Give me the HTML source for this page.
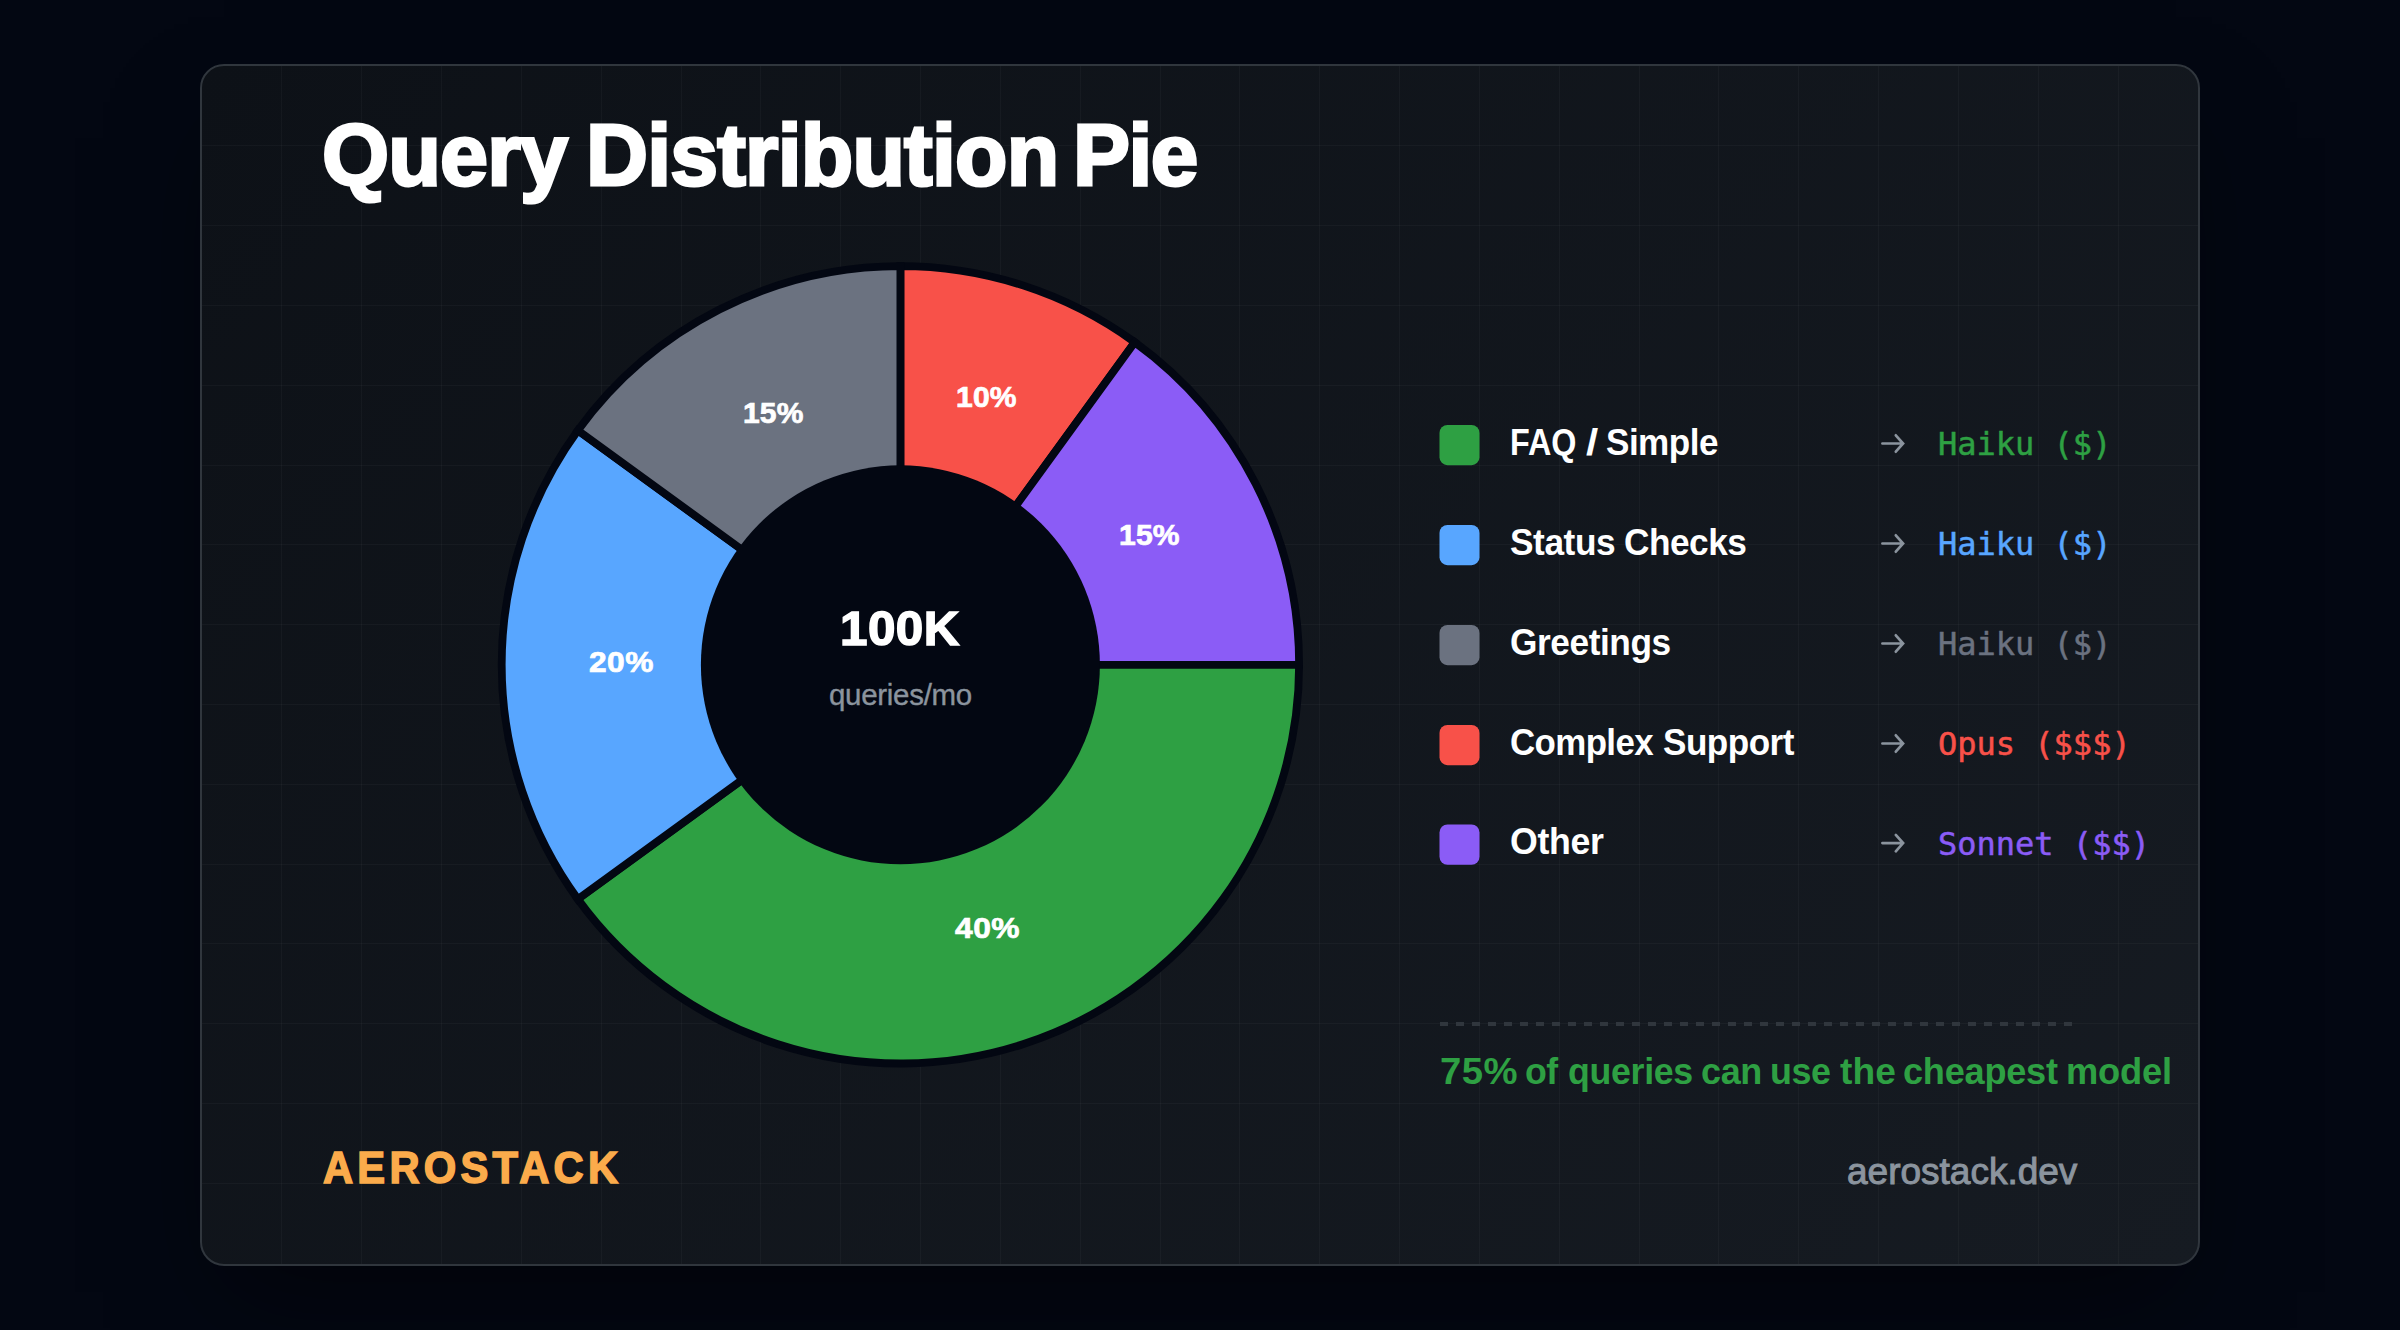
<!DOCTYPE html>
<html lang="en">
<head>
<meta charset="utf-8">
<title>Query Distribution Pie</title>
<style>
*{margin:0;padding:0;box-sizing:border-box}
html,body{width:2400px;height:1330px;overflow:hidden;background:#030712}
body{position:relative;font-family:"Liberation Sans",sans-serif;color:#fff}
.card{position:absolute;left:200px;top:64px;width:2000px;height:1202px;border:2px solid #30363d;border-radius:24px;
  background:linear-gradient(135deg,#0d1117 0%,#161b22 100%);
  box-shadow:0 50px 100px -24px rgba(0,0,0,.5)}
.gridsvg{position:absolute;left:0;top:0}
.tx{position:absolute;white-space:nowrap;line-height:1;display:block;transform-origin:0 0}
.pie{position:absolute;left:0;top:0}
.mono{font-family:"DejaVu Sans Mono","Liberation Mono",monospace;font-size:32px;-webkit-text-stroke:0.5px currentColor}
.dash{position:absolute;left:1440px;top:1022px;width:632px;height:4px;
  background:repeating-linear-gradient(to right,#30363d 0,#30363d 8px,transparent 8px,transparent 16px)}
</style>
</head>
<body>
<div class="card"></div>
<svg class="gridsvg" width="2400" height="1330" viewBox="0 0 2400 1330" shape-rendering="crispEdges"><g fill="#ffffff" fill-opacity="0.03"><rect x="281" y="66" width="1" height="1198"/><rect x="361" y="66" width="1" height="1198"/><rect x="441" y="66" width="1" height="1198"/><rect x="521" y="66" width="1" height="1198"/><rect x="601" y="66" width="1" height="1198"/><rect x="681" y="66" width="1" height="1198"/><rect x="760" y="66" width="1" height="1198"/><rect x="840" y="66" width="1" height="1198"/><rect x="920" y="66" width="1" height="1198"/><rect x="1000" y="66" width="1" height="1198"/><rect x="1080" y="66" width="1" height="1198"/><rect x="1160" y="66" width="1" height="1198"/><rect x="1239" y="66" width="1" height="1198"/><rect x="1319" y="66" width="1" height="1198"/><rect x="1399" y="66" width="1" height="1198"/><rect x="1479" y="66" width="1" height="1198"/><rect x="1559" y="66" width="1" height="1198"/><rect x="1639" y="66" width="1" height="1198"/><rect x="1718" y="66" width="1" height="1198"/><rect x="1798" y="66" width="1" height="1198"/><rect x="1878" y="66" width="1" height="1198"/><rect x="1958" y="66" width="1" height="1198"/><rect x="2038" y="66" width="1" height="1198"/><rect x="2118" y="66" width="1" height="1198"/><rect x="202" y="145" width="1996" height="1"/><rect x="202" y="225" width="1996" height="1"/><rect x="202" y="305" width="1996" height="1"/><rect x="202" y="385" width="1996" height="1"/><rect x="202" y="465" width="1996" height="1"/><rect x="202" y="544" width="1996" height="1"/><rect x="202" y="624" width="1996" height="1"/><rect x="202" y="704" width="1996" height="1"/><rect x="202" y="784" width="1996" height="1"/><rect x="202" y="864" width="1996" height="1"/><rect x="202" y="943" width="1996" height="1"/><rect x="202" y="1023" width="1996" height="1"/><rect x="202" y="1103" width="1996" height="1"/><rect x="202" y="1183" width="1996" height="1"/></g></svg>

<h1><span class="tx" style="left:322.0px;top:112.2px;transform:scaleX(0.9861);font-family:'Liberation Sans',sans-serif;font-size:87.5px;font-weight:700;color:#fff;letter-spacing:-0.88px;-webkit-text-stroke:3.0px #fff;">Query</span> <span class="tx" style="left:585.7px;top:112.2px;transform:scaleX(0.9816);font-family:'Liberation Sans',sans-serif;font-size:87.5px;font-weight:700;color:#fff;letter-spacing:-0.81px;-webkit-text-stroke:3.0px #fff;">Distribution</span> <span class="tx" style="left:1072.5px;top:112.2px;transform:scaleX(0.9767);font-family:'Liberation Sans',sans-serif;font-size:87.5px;font-weight:700;color:#fff;letter-spacing:-1.47px;-webkit-text-stroke:3.0px #fff;">Pie</span></h1>

<svg class="pie" width="2400" height="1330" viewBox="0 0 2400 1330">
  <g stroke="#030712" stroke-width="7.8" stroke-linejoin="miter">
    <path fill="#f85149" d="M900.4 664.8L900.40 266.10A398.7 398.7 0 0 1 1134.75 342.24Z"/>
    <path fill="#8b5cf6" d="M900.4 664.8L1134.75 342.24A398.7 398.7 0 0 1 1299.10 664.80Z"/>
    <path fill="#2ea043" d="M900.4 664.8L1299.10 664.80A398.7 398.7 0 0 1 577.84 899.15Z"/>
    <path fill="#58a6ff" d="M900.4 664.8L577.84 899.15A398.7 398.7 0 0 1 577.84 430.45Z"/>
    <path fill="#6b7280" d="M900.4 664.8L577.84 430.45A398.7 398.7 0 0 1 900.40 266.10Z"/>
  </g>
  <circle cx="900.4" cy="664.8" r="199.5" fill="#030712"/>
  <g fill="none" stroke="#8b949e" stroke-width="2.7" stroke-linecap="round" stroke-linejoin="miter"><path d="M1882.4 443.5H1902.6M1895.8 435.3L1903.1 443.5L1895.8 451.7"/><path d="M1882.4 543.5H1902.6M1895.8 535.3L1903.1 543.5L1895.8 551.7"/><path d="M1882.4 643.5H1902.6M1895.8 635.3L1903.1 643.5L1895.8 651.7"/><path d="M1882.4 743.5H1902.6M1895.8 735.3L1903.1 743.5L1895.8 751.7"/><path d="M1882.4 843.1H1902.6M1895.8 834.9L1903.1 843.1L1895.8 851.3000000000001"/></g>
  <rect x="1439.5" y="424.9" width="40" height="40.3" rx="8" fill="#2ea043"/><rect x="1439.5" y="524.9" width="40" height="40.3" rx="8" fill="#58a6ff"/><rect x="1439.5" y="624.9" width="40" height="40.3" rx="8" fill="#6b7280"/><rect x="1439.5" y="724.9" width="40" height="40.3" rx="8" fill="#f85149"/><rect x="1439.5" y="824.5" width="40" height="40.3" rx="8" fill="#8b5cf6"/>
</svg>

<div class="plabels"><span class="tx" style="left:956.2px;top:382.7px;transform:scaleX(1.0372);font-family:'Liberation Sans',sans-serif;font-size:29px;font-weight:700;color:#fff;letter-spacing:0.18px;-webkit-text-stroke:0.7px #fff;">10%</span> <span class="tx" style="left:1118.7px;top:520.5px;transform:scaleX(1.0372);font-family:'Liberation Sans',sans-serif;font-size:29px;font-weight:700;color:#fff;letter-spacing:0.18px;-webkit-text-stroke:0.7px #fff;">15%</span> <span class="tx" style="left:954.8px;top:913.5px;transform:scaleX(1.0945);font-family:'Liberation Sans',sans-serif;font-size:29px;font-weight:700;color:#fff;letter-spacing:0.47px;-webkit-text-stroke:0.7px #fff;">40%</span> <span class="tx" style="left:588.5px;top:647.5px;transform:scaleX(1.0932);font-family:'Liberation Sans',sans-serif;font-size:29px;font-weight:700;color:#fff;letter-spacing:0.45px;-webkit-text-stroke:0.7px #fff;">20%</span> <span class="tx" style="left:743.1px;top:398.5px;transform:scaleX(1.0342);font-family:'Liberation Sans',sans-serif;font-size:29px;font-weight:700;color:#fff;letter-spacing:0.17px;-webkit-text-stroke:0.7px #fff;">15%</span></div>
<div class="center"><span class="tx" style="left:840.0px;top:604.1px;transform:scaleX(1.0171);font-family:'Liberation Sans',sans-serif;font-size:48.5px;font-weight:700;color:#fff;letter-spacing:0.44px;-webkit-text-stroke:1.5px #fff;">100K</span> <span class="tx" style="left:828.8px;top:679.9px;transform:scaleX(0.9822);font-family:'Liberation Sans',sans-serif;font-size:30px;font-weight:400;color:#8b949e;letter-spacing:-0.29px;-webkit-text-stroke:0.4px #8b949e;">queries/mo</span></div>

<div class="lab"><span class="tx" style="left:1509.9px;top:423.5px;transform:scaleX(0.8726);font-family:'Liberation Sans',sans-serif;font-size:37px;font-weight:700;color:#fff;letter-spacing:0.0px;">FAQ</span> <span class="tx" style="left:1586.1px;top:423.5px;transform:scaleX(1.1900);font-family:'Liberation Sans',sans-serif;font-size:37px;font-weight:700;color:#fff;letter-spacing:0px;">/</span> <span class="tx" style="left:1605.8px;top:423.5px;transform:scaleX(0.9482);font-family:'Liberation Sans',sans-serif;font-size:37px;font-weight:700;color:#fff;letter-spacing:-0.54px;">Simple</span></div>
<div class="lab"><span class="tx" style="left:1509.7px;top:523.6px;transform:scaleX(0.9535);font-family:'Liberation Sans',sans-serif;font-size:37px;font-weight:700;color:#fff;letter-spacing:-0.45px;">Status</span> <span class="tx" style="left:1624.3px;top:523.6px;transform:scaleX(0.9529);font-family:'Liberation Sans',sans-serif;font-size:37px;font-weight:700;color:#fff;letter-spacing:-0.53px;">Checks</span></div>
<div class="lab"><span class="tx" style="left:1509.7px;top:623.7px;transform:scaleX(0.9526);font-family:'Liberation Sans',sans-serif;font-size:37px;font-weight:700;color:#fff;letter-spacing:-0.44px;">Greetings</span></div>
<div class="lab"><span class="tx" style="left:1510.0px;top:723.7px;transform:scaleX(0.9424);font-family:'Liberation Sans',sans-serif;font-size:37px;font-weight:700;color:#fff;letter-spacing:-0.65px;">Complex</span> <span class="tx" style="left:1663.4px;top:723.7px;transform:scaleX(0.9478);font-family:'Liberation Sans',sans-serif;font-size:37px;font-weight:700;color:#fff;letter-spacing:-0.53px;">Support</span></div>
<div class="lab"><span class="tx" style="left:1509.7px;top:823.3px;transform:scaleX(0.9651);font-family:'Liberation Sans',sans-serif;font-size:37px;font-weight:700;color:#fff;letter-spacing:-0.37px;">Other</span></div>

<div class="tx mono" style="left:1938px;top:427.7px;color:#2ea043">Haiku ($)</div>
<div class="tx mono" style="left:1938px;top:527.8px;color:#58a6ff">Haiku ($)</div>
<div class="tx mono" style="left:1938px;top:627.9px;color:#6b7280">Haiku ($)</div>
<div class="tx mono" style="left:1938px;top:727.9px;color:#f85149">Opus ($$$)</div>
<div class="tx mono" style="left:1938px;top:827.5px;color:#8b5cf6">Sonnet ($$)</div>

<div class="dash"></div>
<div class="insight"><span class="tx" style="left:1439.8px;top:1052.7px;transform:scaleX(1.0338);font-family:'Liberation Sans',sans-serif;font-size:37px;font-weight:700;color:#2ea043;letter-spacing:0.52px;">75%</span> <span class="tx" style="left:1525.3px;top:1052.7px;transform:scaleX(0.9647);font-family:'Liberation Sans',sans-serif;font-size:37px;font-weight:700;color:#2ea043;letter-spacing:-0.52px;">of</span> <span class="tx" style="left:1568.3px;top:1052.7px;transform:scaleX(0.9656);font-family:'Liberation Sans',sans-serif;font-size:37px;font-weight:700;color:#2ea043;letter-spacing:-0.32px;">queries</span> <span class="tx" style="left:1701.3px;top:1052.7px;transform:scaleX(0.9723);font-family:'Liberation Sans',sans-serif;font-size:37px;font-weight:700;color:#2ea043;letter-spacing:-0.37px;">can</span> <span class="tx" style="left:1769.8px;top:1052.7px;transform:scaleX(0.9700);font-family:'Liberation Sans',sans-serif;font-size:37px;font-weight:700;color:#2ea043;letter-spacing:-0.4px;">use</span> <span class="tx" style="left:1840.4px;top:1052.7px;transform:scaleX(1.0039);font-family:'Liberation Sans',sans-serif;font-size:37px;font-weight:700;color:#2ea043;letter-spacing:0.04px;">the</span> <span class="tx" style="left:1902.7px;top:1052.7px;transform:scaleX(0.9761);font-family:'Liberation Sans',sans-serif;font-size:37px;font-weight:700;color:#2ea043;letter-spacing:-0.23px;">cheapest</span> <span class="tx" style="left:2065.6px;top:1052.7px;transform:scaleX(0.9806);font-family:'Liberation Sans',sans-serif;font-size:37px;font-weight:700;color:#2ea043;letter-spacing:-0.22px;">model</span></div>
<div class="foot"><span class="tx" style="left:322.5px;top:1147.0px;transform:scaleX(0.9600);font-family:'Liberation Sans',sans-serif;font-size:43.5px;font-weight:700;color:#fbab4b;letter-spacing:4.39px;-webkit-text-stroke:1.5px #fbab4b;">AEROSTACK</span> <span class="tx" style="left:1847.2px;top:1152.6px;transform:scaleX(0.9998);font-family:'Liberation Sans',sans-serif;font-size:37px;font-weight:400;color:#8b949e;letter-spacing:-0.0px;-webkit-text-stroke:1.0px #8b949e;">aerostack.dev</span></div>
</body>
</html>
